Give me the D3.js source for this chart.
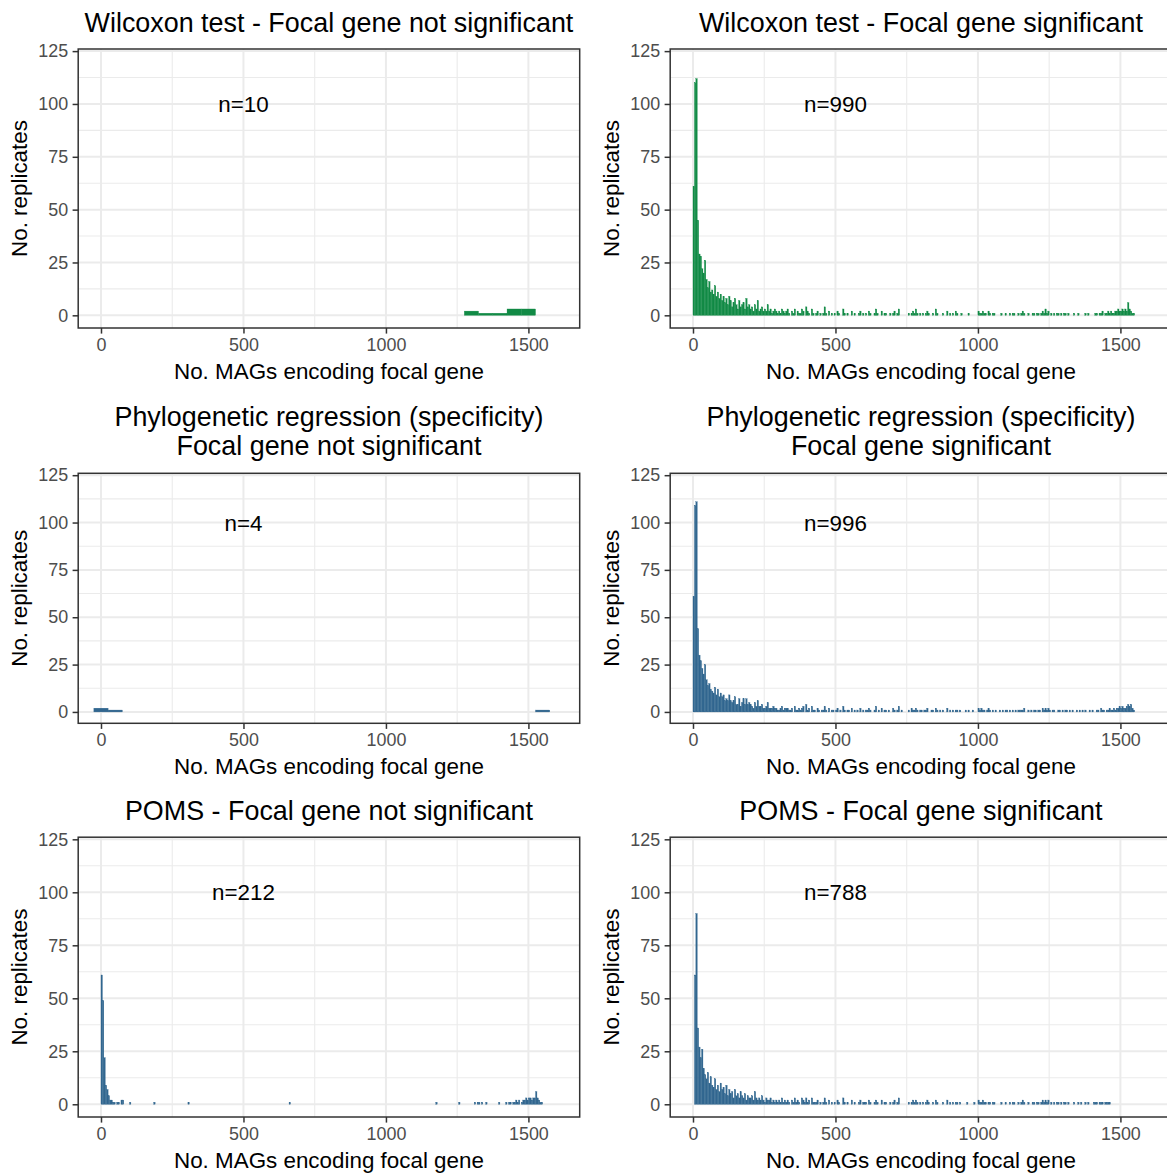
<!DOCTYPE html>
<html>
<head>
<meta charset="utf-8">
<style>
  body { margin: 0; background: #fff; }
  text { font-family: "Liberation Sans", Arial, Helvetica, sans-serif; }
</style>
</head>
<body>
<svg id="chart" width="1167" height="1174"></svg>
<script src="https://cdn.jsdelivr.net/npm/d3@7"></script>
<script>
    // ---- data (histogram counts) ----
    // wide bins are 50 MAGs, fine bins are 5 MAGs
    const wideBin = 50, fineBin = 5;

    // Wilcoxon, not significant: bins of 50 starting at 1275
    const wilcoxNotSigStart = 1275;
    const wilcoxNotSig = [2, 1, 1, 3, 3];

    // Phylogenetic regression, not significant: bins of 50 starting at -25
    const phyloNotSigStart = -25;
    const phyloNotSig = [2, 1, 0, 0, 0, 0, 0, 0, 0, 0,
                         0, 0, 0, 0, 0, 0, 0, 0, 0, 0,
                         0, 0, 0, 0, 0, 0, 0, 0, 0, 0,
                         0, 1];

    // fine bins start at 0, one row = 100 MAGs
    const wilcoxSig = [
        61,110,112,45,29,28,22,20,26,17,13,16,11,12,10,14,9,11,8,10,
        7,9,6,8,5,9,7,4,6,8,5,3,7,4,5,6,3,8,4,5,
        3,4,2,5,3,7,2,3,4,2,3,2,5,2,3,1,2,3,2,1,
        2,1,3,2,1,2,3,1,0,2,1,3,0,2,1,1,3,2,0,4,
        2,1,0,3,1,0,1,2,0,1,0,1,4,1,0,2,0,1,0,1,
        0,2,1,0,0,3,1,0,1,0,0,2,0,1,0,0,1,2,0,1,
        0,1,0,2,1,0,0,1,3,1,0,0,2,0,1,1,0,0,1,0,
        1,2,0,1,3,0,0,0,0,0,0,1,0,1,2,1,3,1,0,1,
        0,1,0,1,2,1,0,0,1,0,3,1,0,0,0,1,0,0,2,0,
        1,0,1,0,2,1,0,0,1,0,0,0,0,1,0,0,0,0,0,0,
        2,1,1,2,1,1,0,2,1,0,1,1,0,0,0,0,1,0,0,1,
        0,0,1,0,1,1,0,0,1,0,1,2,1,0,0,1,0,0,1,1,
        0,1,1,0,1,2,1,3,1,2,0,1,0,1,0,1,1,0,1,0,
        1,1,0,1,0,0,0,1,0,0,1,0,0,0,0,1,0,1,0,0,
        0,0,1,1,0,1,1,2,0,1,1,2,1,2,1,1,2,2,3,2,
        2,3,2,3,2,6,3,2,1,1,0,0
    ];

    const phyloSig = [
        61,109,111,44,30,27,23,20,25,17,14,15,12,11,10,13,9,12,8,10,
        8,9,6,7,6,9,6,5,6,8,4,4,7,3,5,7,4,7,4,5,
        4,3,2,5,3,6,3,3,4,2,2,3,5,2,2,2,3,2,2,1,
        1,2,3,1,2,2,2,1,1,2,0,3,1,1,2,1,2,3,0,4,
        1,2,0,3,1,1,0,2,1,0,1,1,3,1,0,2,0,1,1,0,
        1,2,0,1,0,3,1,0,1,1,0,2,0,1,0,1,0,2,0,1,
        0,1,1,2,1,0,0,1,3,0,1,0,2,0,1,1,0,1,0,0,
        2,1,0,1,3,0,1,0,0,0,0,1,0,2,1,1,2,1,0,1,
        1,0,1,1,2,0,0,1,1,0,2,1,0,1,0,1,0,0,2,0,
        1,0,1,0,1,1,0,1,0,0,0,1,0,1,0,0,1,0,0,0,
        2,1,2,1,1,0,1,2,1,0,1,0,1,0,0,1,0,1,0,1,
        1,0,1,0,1,0,1,0,1,1,1,1,2,0,0,1,0,1,0,1,
        1,0,1,1,0,2,1,2,1,2,1,0,1,1,0,0,1,1,0,1,
        0,1,1,0,1,0,1,0,0,1,0,1,0,1,0,1,0,0,1,0,
        1,0,0,1,1,0,2,1,1,0,1,1,2,1,1,2,1,2,2,3,
        2,3,2,2,3,4,3,4,2,1,0,0
    ];

    const pomsNotSig = [
        61,49,22,9,7,4,2,2,1,1,0,1,1,0,2,2,0,0,0,0,
        1,0,0,0,0,0,0,0,0,0,0,0,0,0,0,0,0,1,0,0,
        0,0,0,0,0,0,0,0,0,0,0,0,0,0,0,0,0,0,0,0,
        0,1,0,0,0,0,0,0,0,0,0,0,0,0,0,0,0,0,0,0,
        0,0,0,0,0,0,0,0,0,0,0,0,0,0,0,0,0,0,0,0,
        0,0,0,0,0,0,0,0,0,0,0,0,0,0,0,0,0,0,0,0,
        0,0,0,0,0,0,0,0,0,0,0,0,1,0,0,0,0,0,0,0,
        0,0,0,0,0,0,0,0,0,0,0,0,0,0,0,0,0,0,0,0,
        0,0,0,0,0,0,0,0,0,0,0,0,0,0,0,0,0,0,0,0,
        0,0,0,0,0,0,0,0,0,0,0,0,0,0,0,0,0,0,0,0,
        0,0,0,0,0,0,0,0,0,0,0,0,0,0,0,0,0,0,0,0,
        0,0,0,0,0,0,0,0,0,0,0,0,0,0,0,1,0,0,0,0,
        0,0,0,0,0,0,0,0,0,0,0,1,0,0,0,0,0,0,0,0,
        0,0,1,0,1,1,0,1,0,0,1,0,0,0,0,0,0,0,0,1,
        0,0,0,0,1,0,1,1,0,1,1,2,1,2,0,1,2,2,3,2,
        3,3,2,3,3,6,3,2,1,1,0,0
    ];

    const pomsSig = [
        0,61,90,36,27,22,26,17,14,12,15,10,13,9,8,12,7,9,6,10,
        7,8,5,9,4,7,5,6,3,7,4,5,3,6,4,3,5,2,4,3,
        3,4,2,6,3,2,3,2,4,2,1,3,2,2,3,1,2,1,2,1,
        2,1,3,1,2,1,2,1,0,2,1,3,1,2,1,0,3,2,1,3,
        1,2,0,3,1,1,1,2,0,1,0,1,3,1,0,2,0,1,0,1,
        0,2,1,0,0,3,1,0,1,0,0,2,0,1,0,0,1,2,0,1,
        1,1,0,2,1,0,0,1,2,1,0,0,2,0,1,1,0,0,1,0,
        1,2,0,1,3,0,0,0,0,0,0,1,0,1,2,1,2,1,0,1,
        0,1,0,1,2,1,0,0,1,0,2,1,0,0,0,1,0,0,2,0,
        1,0,1,0,1,1,0,1,0,0,0,0,1,0,0,0,0,1,0,0,
        2,1,1,2,1,1,0,1,1,0,1,1,0,0,0,0,1,0,0,1,
        0,0,1,0,1,1,0,0,1,0,1,2,1,0,0,1,0,0,1,1,
        0,1,1,0,1,2,1,2,1,2,0,1,0,1,0,1,1,0,1,0,
        1,1,0,1,0,0,0,1,0,0,1,0,1,0,0,1,0,1,0,0,
        0,1,1,1,0,1,1,1,0,1,1,1,1,0,0,0,0,0,0,0
    ];

    const panelTitles = [
        ["Wilcoxon test - Focal gene not significant"],
        ["Wilcoxon test - Focal gene significant"],
        ["Phylogenetic regression (specificity)", "Focal gene not significant"],
        ["Phylogenetic regression (specificity)", "Focal gene significant"],
        ["POMS - Focal gene not significant"],
        ["POMS - Focal gene significant"]
    ];
    const nLabels = ["n=10", "n=990", "n=4", "n=996", "n=212", "n=788"];

    const xTicks = [0, 500, 1000, 1500];
    const xMinor = [250, 750, 1250];
    const yTicks = [0, 25, 50, 75, 100, 125];
    const yMinor = [12.5, 37.5, 62.5, 87.5, 112.5];

    // ---- layout ----
    const green = "#118a45", blue = "#31668f";
    const xDomain = [-80, 1680], yDomain = [-6, 126];
    const plotW = 501.5;
    const colLeft = [78.2, 670.2];
    const rows = [
        { top: 49, bottom: 328, titleY: [31.7] },
        { top: 473.3, bottom: 723.3, titleY: [426, 455] },
        { top: 837.2, bottom: 1117, titleY: [820] }
    ];

    const panels = [
        { counts: wilcoxNotSig, start: wilcoxNotSigStart, bin: wideBin, color: green },
        { counts: wilcoxSig, start: 0, bin: fineBin, color: green },
        { counts: phyloNotSig, start: phyloNotSigStart, bin: wideBin, color: blue },
        { counts: phyloSig, start: 0, bin: fineBin, color: blue },
        { counts: pomsNotSig, start: 0, bin: fineBin, color: blue },
        { counts: pomsSig, start: 0, bin: fineBin, color: blue }
    ];

    const svg = d3.select("#chart");
    svg.append("rect").attr("width", 1167).attr("height", 1174).attr("fill", "#fff");

    panels.forEach(function (p, i) {
        const col = i % 2, row = Math.floor(i / 2);
        const r = rows[row];
        const left = colLeft[col];
        const x = d3.scaleLinear().domain(xDomain).range([left, left + plotW]);
        const y = d3.scaleLinear().domain(yDomain).range([r.bottom, r.top]);
        const g = svg.append("g");

        // grid
        g.selectAll(".vmin").data(xMinor).join("line")
            .attr("x1", d => x(d)).attr("x2", d => x(d))
            .attr("y1", r.top).attr("y2", r.bottom)
            .attr("stroke", "#ebebeb").attr("stroke-width", 1.1);
        g.selectAll(".hmin").data(yMinor).join("line")
            .attr("x1", left).attr("x2", left + plotW)
            .attr("y1", d => y(d)).attr("y2", d => y(d))
            .attr("stroke", "#ebebeb").attr("stroke-width", 1.1);
        g.selectAll(".vmaj").data(xTicks).join("line")
            .attr("x1", d => x(d)).attr("x2", d => x(d))
            .attr("y1", r.top).attr("y2", r.bottom)
            .attr("stroke", "#ebebeb").attr("stroke-width", 2);
        g.selectAll(".hmaj").data(yTicks).join("line")
            .attr("x1", left).attr("x2", left + plotW)
            .attr("y1", d => y(d)).attr("y2", d => y(d))
            .attr("stroke", "#ebebeb").attr("stroke-width", 2);

        // bars
        const bins = p.counts.map(function (c, k) {
            return { x0: p.start + k * p.bin, x1: p.start + (k + 1) * p.bin, count: c };
        }).filter(d => d.count > 0);

        g.selectAll(".bar").data(bins).join("rect")
            .attr("x", d => x(d.x0))
            .attr("width", d => x(d.x1) - x(d.x0))
            .attr("y", d => y(d.count))
            .attr("height", d => y(0) - y(d.count))
            .attr("fill", p.color)
            .attr("stroke", p.color)
            .attr("stroke-width", 0.3);

        // n label
        g.append("text")
            .attr("x", x(500)).attr("y", y(100)).attr("dy", "0.36em")
            .attr("text-anchor", "middle").attr("font-size", 22.4).attr("fill", "#000")
            .text(nLabels[i]);

        // border
        g.append("rect")
            .attr("x", left).attr("y", r.top)
            .attr("width", plotW).attr("height", r.bottom - r.top)
            .attr("fill", "none").attr("stroke", "#333").attr("stroke-width", 1.5);

        // axes
        const styleAxis = function (a) {
            a.select(".domain").remove();
            a.attr("font-family", null).attr("font-size", null);
            a.selectAll(".tick line").attr("stroke", "#333").attr("stroke-width", 1.5);
            a.selectAll(".tick text").attr("fill", "#4d4d4d").attr("font-size", 17.9);
        };
        g.append("g").attr("transform", `translate(${left},0)`)
            .call(d3.axisLeft(y).tickValues(yTicks).tickFormat(d3.format("d")).tickSize(5.6).tickPadding(4.5))
            .call(styleAxis);
        g.append("g").attr("transform", `translate(0,${r.bottom})`)
            .call(d3.axisBottom(x).tickValues(xTicks).tickFormat(d3.format("d")).tickSize(5.6).tickPadding(4.5))
            .call(styleAxis);

        // axis titles
        g.append("text")
            .attr("x", left + plotW / 2).attr("y", r.bottom + 51)
            .attr("text-anchor", "middle").attr("font-size", 22.4)
            .text("No. MAGs encoding focal gene");
        g.append("text")
            .attr("transform", `translate(${left - 51},${(r.top + r.bottom) / 2}) rotate(-90)`)
            .attr("text-anchor", "middle").attr("font-size", 22.4)
            .text("No. replicates");

        // title
        panelTitles[i].forEach(function (line, k) {
            g.append("text")
                .attr("x", left + plotW / 2).attr("y", r.titleY[k])
                .attr("text-anchor", "middle").attr("font-size", 26.9)
                .text(line);
        });
    });
</script>
</body>
</html>
